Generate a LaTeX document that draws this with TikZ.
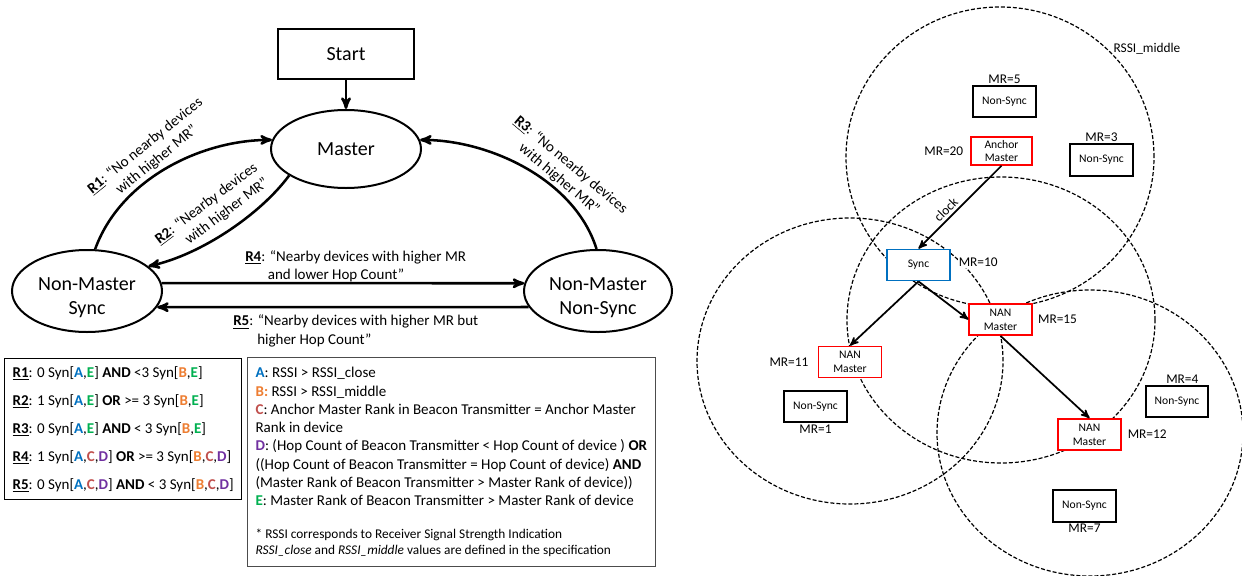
\documentclass[tikz,border=0pt]{standalone}
\usepackage{fontspec}
\setmainfont{Carlito}
\usepackage{tikz}
\usetikzlibrary{shapes.geometric,arrows,positioning}
\definecolor{condA}{RGB}{0,112,192}
\definecolor{condB}{RGB}{237,125,49}
\definecolor{condC}{RGB}{192,80,77}
\definecolor{condD}{RGB}{112,48,160}
\definecolor{condE}{RGB}{0,176,80}
\newcommand{\rn}[1]{\underline{\textbf{#1}}}
\newcommand{\cA}{{\color{condA}\textbf{A}}}
\newcommand{\cB}{{\color{condB}\textbf{B}}}
\newcommand{\cC}{{\color{condC}\textbf{C}}}
\newcommand{\cD}{{\color{condD}\textbf{D}}}
\newcommand{\cE}{{\color{condE}\textbf{E}}}
\tikzset
{
    statenode/.style  = {ellipse, draw=black, line width=1.5pt, align=center, inner sep=0pt, font=\fontsize{15pt}{18pt}\selectfont},
    statetext/.style  = {align=center, inner sep=0pt, font=\fontsize{15pt}{18pt}\selectfont},
    startnode/.style  = {rectangle, draw=black, line width=1.1pt, minimum width=102pt, minimum height=37.5pt, font=\fontsize{15pt}{18pt}\selectfont},
    rulelabel/.style  = {align=center, inner sep=0pt, font=\fontsize{11.25pt}{13.7pt}\selectfont},
    transition/.style = {->, >=stealth', line width=1.9pt},
    legendbox/.style  = {rectangle, draw=black, line width=0.9pt, align=left, inner xsep=6pt, inner ysep=0pt},
    devnode/.style    = {rectangle, draw=black, fill=white, line width=1.3pt, minimum width=47pt, minimum height=23.5pt, align=center, inner sep=0pt, font=\fontsize{8.7pt}{10.3pt}\selectfont},
    masternode/.style = {devnode, draw=red, line width=1.1pt},
    syncnode/.style   = {devnode, draw=condA, line width=1.1pt},
    mrlabel/.style    = {fill=white, inner sep=1pt, font=\fontsize{10pt}{12pt}\selectfont},
    rangering/.style  = {dash pattern=on 3pt off 1.5pt, line width=0.9pt},
    clocklink/.style  = {->, >=stealth', line width=1.3pt}
}
\begin{document}
\begin{tikzpicture}[x=0.75pt, y=-0.75pt]
    \useasboundingbox (0,0) rectangle (1242,575);

    % state machine
    \node [startnode] (start) at (346,54) {Start};
    \node [statenode, minimum width=112.5pt, minimum height=58.5pt] (master) at (346,149) {Master};
    \node [statenode, minimum width=112.5pt, minimum height=61.5pt,
           label={[statetext, yshift=-5.25pt]center:Non-Master\\Sync}] (nms) at (87,291) {};
    \node [statenode, minimum width=111pt, minimum height=61.5pt,
           label={[statetext, yshift=-5.25pt]center:Non-Master\\Non-Sync}] (nns) at (598,291) {};

    \draw [transition] (start) -- (master);
    \draw [transition] (nms.79) .. controls (120,180) and (200,140) .. (master.173);
    \draw [transition] (master.205) .. controls (260,215) and (200,255) .. (nms.22);
    \draw [transition] (nns.92) .. controls (575,180) and (490,140) .. (master.7);
    \draw [transition] (nms.6) -- (nns.174);
    \draw [transition] (nns.193) -- (nms.-13);

    \node [rulelabel, rotate=39] (r1lab) at (151,153) {\rn{R1}: “No nearby devices\\with higher MR”};
    \node [rulelabel, rotate=37, align=right] (r2lab) at (212,211) {\rn{R2}: “Nearby devices\\with higher MR”};
    \node [rulelabel, rotate=-40] (r3lab) at (565,172) {\rn{R3}: “No nearby devices\\with higher MR”};
    \node [rulelabel, align=left, anchor=west] (r4lab) at (245,266) {\rn{R4}: “Nearby devices with higher MR\\\hspace*{17pt}and lower Hop Count”};
    \node [rulelabel, align=left, anchor=west] (r5lab) at (233,331) {\rn{R5}: “Nearby devices with higher MR but\\\hspace*{18pt}higher Hop Count”};

    % legends
    \node [legendbox, anchor=north west, minimum height=105.75pt, font=\fontsize{11.25pt}{21pt}\selectfont] (rules) at (4,358)
    {
        \rn{R1}: 0 Syn[\cA,\cE] \textbf{AND} <3 Syn[\cB,\cE]\\
        \rn{R2}: 1 Syn[\cA,\cE] \textbf{OR} >= 3 Syn[\cB,\cE]\\
        \rn{R3}: 0 Syn[\cA,\cE] \textbf{AND} < 3 Syn[\cB,\cE]\\
        \rn{R4}: 1 Syn[\cA,\cC,\cD] \textbf{OR} >= 3 Syn[\cB,\cC,\cD]\\
        \rn{R5}: 0 Syn[\cA,\cC,\cD] \textbf{AND} < 3 Syn[\cB,\cC,\cD]
    };
    \node [legendbox, draw=black!70, anchor=north west, minimum height=156.75pt, font=\fontsize{11.25pt}{13.7pt}\selectfont] (conds) at (247,357)
    {
        \cA: RSSI > RSSI\_close\\
        {\color{condB}\textbf{B:}} RSSI > RSSI\_middle\\
        \cC: Anchor Master Rank in Beacon Transmitter = Anchor Master\\
        Rank in device\\
        \cD: (Hop Count of Beacon Transmitter < Hop Count of device ) \textbf{OR}\\
        ((Hop Count of Beacon Transmitter = Hop Count of device) \textbf{AND}\\
        (Master Rank of Beacon Transmitter > Master Rank of device))\\
        \cE: Master Rank of Beacon Transmitter > Master Rank of device\\[11pt]
        {\fontsize{10pt}{12pt}\selectfont * RSSI corresponds to Receiver Signal Strength Indication}\\[-1.7pt]
        {\fontsize{10pt}{12pt}\selectfont \textit{RSSI\_close} and \textit{RSSI\_middle} values are defined in the specification}
    };

    % network ranges
    \draw [rangering] (1000,157) ellipse [x radius=115.5pt, y radius=112.5pt];
    \draw [rangering] (1001,320) ellipse [x radius=115.5pt, y radius=107.25pt];
    \draw [rangering] (850,361) ellipse [x radius=114.75pt, y radius=107.25pt];
    \draw [rangering] (1090,433) ellipse [x radius=114.75pt, y radius=107.25pt];
    \node [font=\fontsize{10pt}{12pt}\selectfont] (rssi) at (1147,49) {RSSI\_middle};

    % devices
    \node [masternode, minimum width=46pt, minimum height=21pt] (am) at (1001.5,151) {Anchor\\Master};
    \node [devnode] (ns5) at (1004.5,101.5) {Non-Sync};
    \node [devnode] (ns3) at (1101.5,160) {Non-Sync};
    \node [syncnode] (sync) at (918.5,265) {Sync};
    \node [masternode] (nan11) at (850,362) {NAN\\Master};
    \node [devnode] (ns1) at (815.5,406.5) {Non-Sync};
    \node [masternode] (nan15) at (1000.5,319.5) {NAN\\Master};
    \node [masternode] (nan12) at (1089.5,434.5) {NAN\\Master};
    \node [devnode] (ns4) at (1177,401.5) {Non-Sync};
    \node [devnode] (ns7) at (1084.5,506) {Non-Sync};

    \node [mrlabel, above=0pt of ns5] (mr5) {MR=5};
    \node [mrlabel, above=0pt of ns3] (mr3) {MR=3};
    \node [mrlabel, left=4pt of am] (mr20) {MR=20};
    \node [mrlabel, right=5pt of sync, yshift=2pt] (mr10) {MR=10};
    \node [mrlabel, left=6pt of nan11] (mr11) {MR=11};
    \node [mrlabel, below=0pt of ns1] (mr1) {MR=1};
    \node [mrlabel, right=3pt of nan15] (mr15) {MR=15};
    \node [mrlabel, right=3.5pt of nan12] (mr12) {MR=12};
    \node [mrlabel, above=0pt of ns4, xshift=4pt] (mr4) {MR=4};
    \node [mrlabel, below=0pt of ns7] (mr7) {MR=7};

    \draw [clocklink] (am.south) -- node [sloped, above, pos=0.6, inner sep=2pt, font=\fontsize{10pt}{12pt}\selectfont] (clk) {clock} (sync.north);
    \draw [clocklink] (sync.south) -- (nan11.north);
    \draw [clocklink] (sync.south) -- (nan15.west);
    \draw [clocklink] (nan15.south) -- (nan12.north);
\end{tikzpicture}
\end{document}
